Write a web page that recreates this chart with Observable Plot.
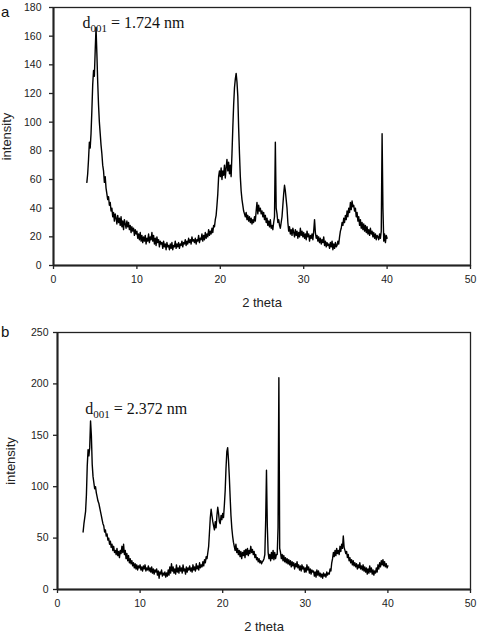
<!DOCTYPE html>
<html><head><meta charset="utf-8">
<script src="https://cdn.jsdelivr.net/npm/d3@7"></script>
<script src="https://cdn.jsdelivr.net/npm/@observablehq/plot@0.6"></script>
<style>
body{margin:0;background:#fff;}
#wrap{position:relative;width:477px;height:633px;overflow:hidden;font-family:"Liberation Sans",Arial,sans-serif;}
.panel{position:absolute;left:0;}
.tag{position:absolute;font-size:15px;color:#111;z-index:2;line-height:1;}
</style></head><body>
<div id="wrap">
  <div id="pa" class="panel" style="top:0"></div>
  <div id="pb" class="panel" style="top:318px"></div>
  <div class="tag" style="left:1px;top:4px">a</div>
  <div class="tag" style="left:1px;top:324px">b</div>
</div>
<script>
// ---- data (2 theta grid, 0.1 deg step) ----
const startA = 4.0, stepA = 0.1;
const intensityA = [
 58, 64, 74, 86, 82, 92, 108, 126, 136, 132,
 150, 166, 148, 128, 112, 100, 92, 84, 78, 70,
 66, 58, 62, 54, 50, 46, 48, 42, 44, 38,
 40, 34, 37, 31, 36, 33, 29, 35, 30, 33,
 28, 34, 27, 31, 25, 32, 29, 26, 31, 27,
 30, 25, 28, 23, 27, 24, 26, 21, 25, 22,
 24, 19, 22, 18, 23, 17, 21, 16, 20, 17,
 21, 15, 19, 17, 22, 16, 20, 18, 23, 17,
 21, 15, 19, 14, 20, 16, 18, 13, 17, 15,
 16, 12, 17, 13, 15, 11, 16, 13, 14, 11,
 15, 12, 16, 11, 14, 13, 17, 12, 15, 13,
 16, 12, 15, 14, 17, 13, 16, 15, 18, 14,
 17, 15, 19, 16, 18, 15, 20, 17, 18, 16,
 19, 15, 18, 17, 21, 16, 19, 18, 22, 17,
 21, 18, 23, 19, 22, 20, 25, 21, 24, 22,
 26, 23, 28, 27, 32, 35, 42, 50, 62, 66,
 62, 68, 60, 66, 63, 70, 61, 68, 74, 66,
 72, 64, 70, 62, 78, 96, 112, 124, 130, 134,
 128, 118, 96, 78, 62, 52, 46, 42, 38, 36,
 34, 37, 32, 35, 31, 34, 30, 33, 29, 32,
 30, 34, 31, 38, 44, 36, 42, 38, 40, 36,
 38, 34, 37, 32, 35, 30, 33, 28, 31, 27,
 32, 26, 28, 25, 30, 34, 86, 40, 36, 30,
 32, 28, 26, 30, 34, 42, 50, 56, 52, 46,
 40, 30, 24, 27, 22, 25, 21, 26, 23, 20,
 25, 21, 24, 19, 23, 20, 26, 21, 24, 20,
 23, 19, 22, 18, 24, 20, 22, 17, 21, 19,
 22, 18, 24, 32, 23, 19, 21, 17, 20, 16,
 19, 15, 18, 16, 20, 14, 17, 13, 16, 14,
 15, 12, 16, 13, 17, 11, 15, 12, 16, 13,
 14, 17, 15, 20, 24, 26, 30, 28, 33, 30,
 35, 32, 38, 34, 40, 37, 44, 39, 45, 41,
 42, 38, 40, 34, 37, 31, 34, 28, 32, 26,
 30, 25, 29, 24, 28, 23, 27, 22, 25, 21,
 26, 22, 24, 20, 23, 19, 22, 18, 21, 20,
 18, 22, 19, 24, 92, 40, 17, 22, 16, 21,
 19
];
const startB = 3.1, stepB = 0.1;
const intensityB = [
 56, 64, 70, 76, 92, 120, 136, 130, 138,
 164, 150, 122, 110, 104, 98, 100, 94, 90, 86,
 84, 80, 76, 72, 68, 64, 62, 56, 58, 52,
 54, 48, 50, 44, 47, 41, 44, 38, 42, 36,
 38, 34, 40, 33, 37, 31, 38, 35, 42, 36,
 44, 34, 38, 30, 35, 28, 33, 26, 30, 25,
 28, 23, 26, 21, 25, 20, 24, 19, 23, 21,
 24, 19, 22, 18, 23, 20, 24, 18, 21, 19,
 23, 18, 21, 17, 22, 16, 20, 15, 19, 17,
 20, 14, 18, 11, 17, 15, 19, 13, 16, 14,
 17, 12, 16, 13, 19, 14, 22, 16, 25, 18,
 22, 16, 20, 15, 24, 17, 21, 16, 23, 18,
 21, 16, 24, 18, 20, 15, 22, 17, 21, 19,
 23, 18, 21, 17, 24, 19, 22, 18, 25, 20,
 23, 19, 26, 21, 24, 22, 27, 23, 29, 26,
 32, 30, 36, 42, 56, 70, 78, 72, 66, 62,
 58, 66, 60, 72, 80, 74, 66, 64, 72, 68,
 74, 70, 82, 96, 118, 134, 138, 126, 110, 90,
 72, 60, 52, 46, 42, 38, 44, 36, 40, 34,
 38, 32, 37, 30, 36, 33, 38, 31, 39, 34,
 40, 33, 38, 35, 42, 36, 39, 34, 37, 31,
 34, 29, 31, 27, 30, 26, 28, 25, 27, 28,
 30, 34, 66, 116, 62, 36, 30, 34, 28, 36,
 30, 38, 29, 36, 30, 34, 34, 60, 206, 40,
 36, 30, 34, 28, 33, 27, 31, 26, 30, 25,
 29, 24, 28, 22, 27, 23, 26, 20, 25, 22,
 27, 21, 24, 19, 23, 18, 24, 20, 22, 17,
 21, 17, 24, 19, 22, 16, 20, 15, 19, 17,
 18, 13, 17, 12, 19, 14, 18, 13, 16, 12,
 15, 11, 16, 13, 15, 12, 17, 14, 16, 15,
 20, 18, 26, 30, 36, 32, 38, 33, 40, 35,
 38, 34, 42, 37, 44, 40, 52, 41, 38, 35,
 37, 31, 34, 28, 31, 26, 29, 24, 28, 23,
 26, 22, 25, 20, 24, 21, 26, 20, 23, 19,
 24, 18, 22, 17, 21, 15, 20, 16, 23, 17,
 21, 15, 19, 14, 18, 16, 21, 17, 24, 20,
 26, 22, 28, 24, 29, 23, 27, 22, 25, 21,
 23
];
const xTicks = [0, 10, 20, 30, 40, 50];
const yTicksA = [0, 20, 40, 60, 80, 100, 120, 140, 160, 180];
const yTicksB = [0, 50, 100, 150, 200, 250];
const xLabel = "2 theta";
const yLabel = "intensity";
const annA = {theta: 3.48, value: 166, sub: "001", rest: " = 1.724 nm"};
const annB = {theta: 3.37, value: 171, sub: "001", rest: " = 2.372 nm"};

const ink = "#222";

function toRows(start, step, vals) {
  return vals.map((v, i) => ({theta: +(start + i * step).toFixed(2), intensity: v}));
}

function panel(el, o) {
  const rows = toRows(o.start, o.step, o.values);
  const plot = Plot.plot({
    width: 477, height: o.height,
    marginLeft: o.ml, marginRight: o.mr, marginTop: o.mt, marginBottom: o.mb,
    style: {fontFamily: "'Liberation Sans', Arial, sans-serif", fontSize: "10.5px", color: ink, background: "white", overflow: "visible"},
    x: {domain: [0, 50]},
    y: {domain: o.ydomain},
    marks: [
      Plot.frame({stroke: ink, strokeWidth: 1.3}),
      Plot.axisX({ticks: xTicks, tickSize: 4, tickPadding: 6, label: null, stroke: ink, strokeWidth: 1.3}),
      Plot.axisY({ticks: o.yticks, tickSize: 4, tickPadding: o.ypad, label: null, stroke: ink, strokeWidth: 1.3}),
      Plot.ruleX([0], {stroke: ink, strokeWidth: 2}),
      Plot.ruleY([0], {stroke: ink, strokeWidth: 2}),
      Plot.line(rows, {x: "theta", y: "intensity", stroke: "#000", strokeWidth: 1.4}),
      Plot.text([xLabel], {frameAnchor: "bottom", text: d => d, dy: 41, lineAnchor: "bottom", fontSize: 13, fill: ink}),
      Plot.text([yLabel], {frameAnchor: "left", text: d => d, dx: o.ylx, rotate: -90, lineAnchor: "middle", textAnchor: "middle", fontSize: 13, fill: ink}),
      Plot.text([o.ann], {x: "theta", y: "value", text: d => "d" + d.sub + d.rest, textAnchor: "start", lineAnchor: "bottom", fontFamily: "'Liberation Serif', 'Times New Roman', serif", fontSize: 16, fill: "#111"})
    ]
  });
  // subscript in annotation
  plot.querySelectorAll("text").forEach(t => {
    if (t.textContent === "d" + o.ann.sub + o.ann.rest) {
      const ns = "http://www.w3.org/2000/svg";
      t.textContent = "d";
      const s = document.createElementNS(ns, "tspan");
      s.setAttribute("dy", "4"); s.setAttribute("font-size", "11");
      s.textContent = o.ann.sub;
      const r = document.createElementNS(ns, "tspan");
      r.setAttribute("dy", "-4");
      r.textContent = o.ann.rest;
      t.appendChild(s); t.appendChild(r);
    }
  });
  el.appendChild(plot);
}

panel(document.getElementById("pa"), {
  start: startA, step: stepA, values: intensityA, height: 310,
  ml: 53, mr: 7, mt: 7, mb: 45, ydomain: [0, 180], yticks: yTicksA, ypad: 8, ylx: -47, ann: annA
});
panel(document.getElementById("pb"), {
  start: startB, step: stepB, values: intensityB, height: 315,
  ml: 57, mr: 7, mt: 14, mb: 44, ydomain: [0, 250], yticks: yTicksB, ypad: 5, ylx: -47, ann: annB
});
</script>
</body></html>
